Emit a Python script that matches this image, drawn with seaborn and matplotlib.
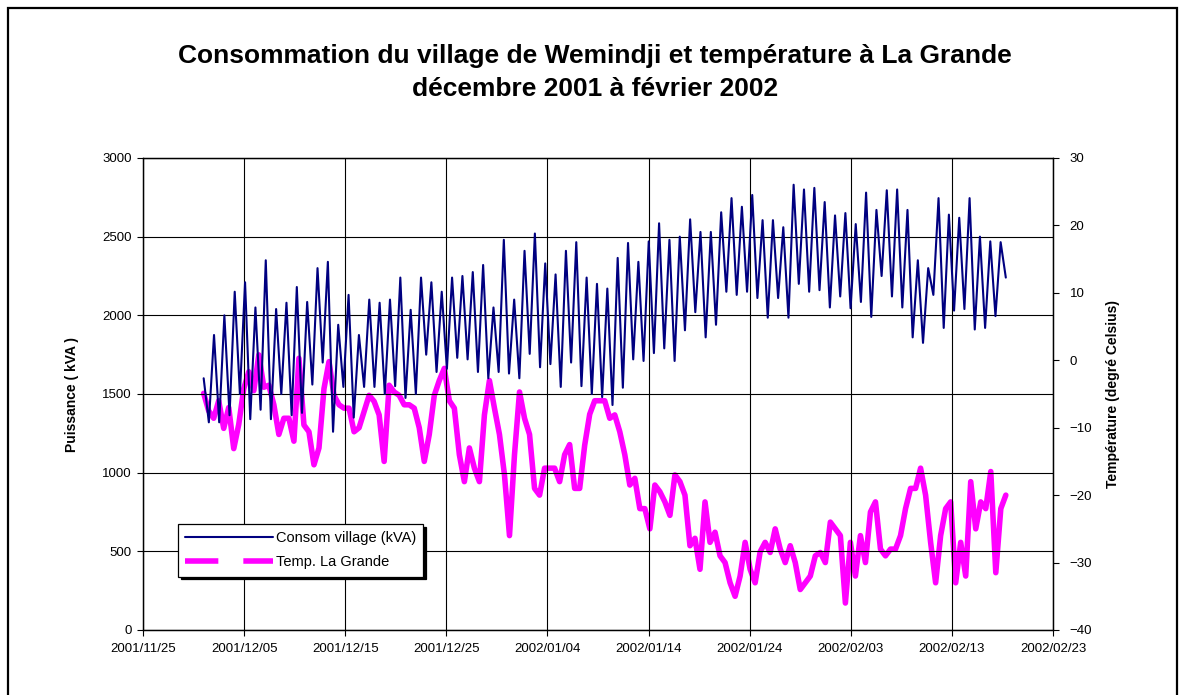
import matplotlib
matplotlib.use("Agg")
import matplotlib.pyplot as plt
import matplotlib.dates as mdates
from matplotlib.lines import Line2D
from matplotlib.patches import Rectangle
import seaborn as sns
import pandas as pd

sns.set_style("white")
plt.rcParams["font.family"] = ["Liberation Sans", "DejaVu Sans"]
plt.rcParams["text.color"] = "black"
plt.rcParams["axes.labelcolor"] = "black"
plt.rcParams["xtick.color"] = "black"
plt.rcParams["ytick.color"] = "black"

# readings roughly every 12 h
start, end = "2001-12-01 00:00", "2002-02-18 08:00"

consom_kva = [
    1600, 1320, 1875, 1320, 2000, 1365, 2150, 1500, 2210, 1340, 2050, 1400, 2350, 1340, 2040, 1500, 2080, 1365, 2180, 1380,
    2085, 1560, 2300, 1700, 2340, 1260, 1940, 1545, 2130, 1350, 1875, 1545, 2100, 1545, 2080, 1500, 2100, 1550, 2240, 1475,
    2035, 1500, 2240, 1750, 2210, 1640, 2150, 1660, 2240, 1730, 2250, 1720, 2275, 1640, 2320, 1600, 2050, 1640,
    2480, 1630, 2100, 1600, 2410, 1755, 2520, 1670, 2330, 1690, 2260, 1545, 2410, 1700, 2465, 1550, 2240, 1500, 2200, 1480, 2170,
    1430, 2365, 1540, 2460, 1720, 2340, 1710, 2470, 1760, 2585, 1790, 2480, 1710, 2500, 1905, 2610, 2020, 2530, 1860, 2530,
    1940, 2655, 2150, 2745, 2130, 2690, 2150, 2765, 2110, 2605, 1985, 2605, 2110, 2560, 1985, 2830, 2200, 2800, 2150, 2810, 2160,
    2720, 2050, 2635, 2120, 2650, 2045, 2580, 2085, 2780, 1990, 2670, 2250, 2795, 2120, 2800, 2050, 2670, 1860, 2350, 1825,
    2300, 2130, 2745, 1920, 2640, 2030, 2620, 2040, 2745, 1910, 2500, 1920, 2470, 1995, 2465, 2240,
]

temp_c = [
    -4.9, -7.5, -8.6, -6, -10.1, -7, -13.1, -9.5, -4.2, -1.7, -4.5, 0.8, -4, -3.7, -6.6, -11, -8.6, -8.6, -12,
    0.3, -9.6, -10.6, -15.5, -13, -4.2, -0.2, -5.2, -6.6, -7.1, -7.1, -10.6, -10, -7.6, -5.2, -6.1, -8.1, -15, -3.7, -4.7, -5.2,
    -6.6, -6.6, -7.1, -10, -15, -11, -5.2, -3, -1.2, -6, -7.1, -14, -18, -13, -16, -18, -8.1, -3, -7.1, -11, -17,
    -26, -14, -4.7, -8.6, -11, -19, -20, -16, -16, -16, -18, -14, -12.5, -19, -19, -12.6, -8, -6, -6, -6, -8.6,
    -8.1, -10.6, -14, -18.5, -17.5, -22, -22, -25, -18.5, -19.5, -21, -23, -17, -18, -20, -27.5, -26.4, -31, -21, -27, -25.5,
    -29, -30, -33, -35, -32, -27, -31, -33, -28.4, -27, -28.5, -25, -28, -30, -27.5, -30, -34, -33, -32, -29, -28.5,
    -30, -24, -25, -26, -36, -27, -32, -26, -30, -22.5, -21, -28, -29, -28, -28, -26, -22, -19, -19, -16, -20,
    -27, -33, -26, -22, -21, -33, -27, -32, -18, -25, -21, -22, -16.5, -31.5, -22, -20,
]

df_c = pd.DataFrame({"date": pd.date_range(start, end, periods=len(consom_kva)), "kva": consom_kva})
df_t = pd.DataFrame({"date": pd.date_range(start, end, periods=len(temp_c)), "temp": temp_c})

navy = "#000080"
magenta = "#FF00FF"

fig = plt.figure(figsize=(11.81, 6.95), dpi=100)
ax = fig.add_axes([143 / 1181, 1 - 630 / 695, 910 / 1181, 472 / 695])
ax2 = ax.twinx()

sns.lineplot(data=df_t, x="date", y="temp", ax=ax2, color=magenta, lw=4.0)
sns.lineplot(data=df_c, x="date", y="kva", ax=ax, color=navy, lw=1.5)

# navy series drawn over the magenta one
ax.set_zorder(ax2.get_zorder() + 1)
ax.patch.set_visible(False)

ax.set_xlim(pd.Timestamp("2001-11-25"), pd.Timestamp("2002-02-23"))
ax.set_ylim(0, 3000)
ax.set_yticks(range(0, 3001, 500))
ax2.set_ylim(-40, 30)
ax2.set_yticks(range(-40, 31, 10))
ticks = pd.date_range("2001-11-25", "2002-02-23", freq="10D")
ax.set_xticks(ticks)
ax.xaxis.set_major_formatter(mdates.DateFormatter("%Y/%m/%d"))

ax.grid(True, color="black", lw=0.8)
for a in (ax, ax2):
    for s in a.spines.values():
        s.set_color("black")
        s.set_linewidth(0.9)
    a.tick_params(direction="out", length=4, width=0.8, color="black", labelsize=9.5, pad=4)
ax.tick_params(axis="y", left=True)
ax.tick_params(axis="x", bottom=True, pad=5)
ax2.tick_params(axis="y", right=True, pad=8)

ax.set_xlabel("")
ax.set_ylabel("Puissance ( kVA )", fontsize=10, fontweight="heavy")
ax2.set_ylabel("Température (degré Celsius)", fontsize=10, fontweight="heavy", rotation=90)
ax.yaxis.set_label_coords(-0.0703, 0.5)
ax2.yaxis.set_label_coords(1.058, 0.5)

fig.text(0.504, 0.919, "Consommation du village de Wemindji et température à La Grande",
         ha="center", va="center", fontsize=19, fontweight="bold")
fig.text(0.504, 0.872, "décembre 2001 à février 2002",
         ha="center", va="center", fontsize=19, fontweight="bold")

handles = [
    Line2D([], [], color=navy, lw=1.5),
    Line2D([], [], color=magenta, lw=4.0, dashes=(6, 4.5)),
]
leg = ax.legend(handles, ["Consom village (kVA)", "Temp. La Grande"],
                loc="upper left", bbox_to_anchor=(0.0385, 0.225), borderaxespad=0,
                fontsize=10.5, frameon=True, fancybox=False,
                shadow={"color": "black", "alpha": 1},
                handlelength=6.0, borderpad=0.5, labelspacing=0.7, handletextpad=0.2)
leg.get_frame().set_edgecolor("black")
leg.get_frame().set_linewidth(0.9)

fig.patches.append(Rectangle((8 / 1181, -0.05), 1169 / 1181, 1.05 - 8 / 695,
                             transform=fig.transFigure, fill=False, ec="black", lw=1.6))

fig.savefig("out.png", dpi=100)
